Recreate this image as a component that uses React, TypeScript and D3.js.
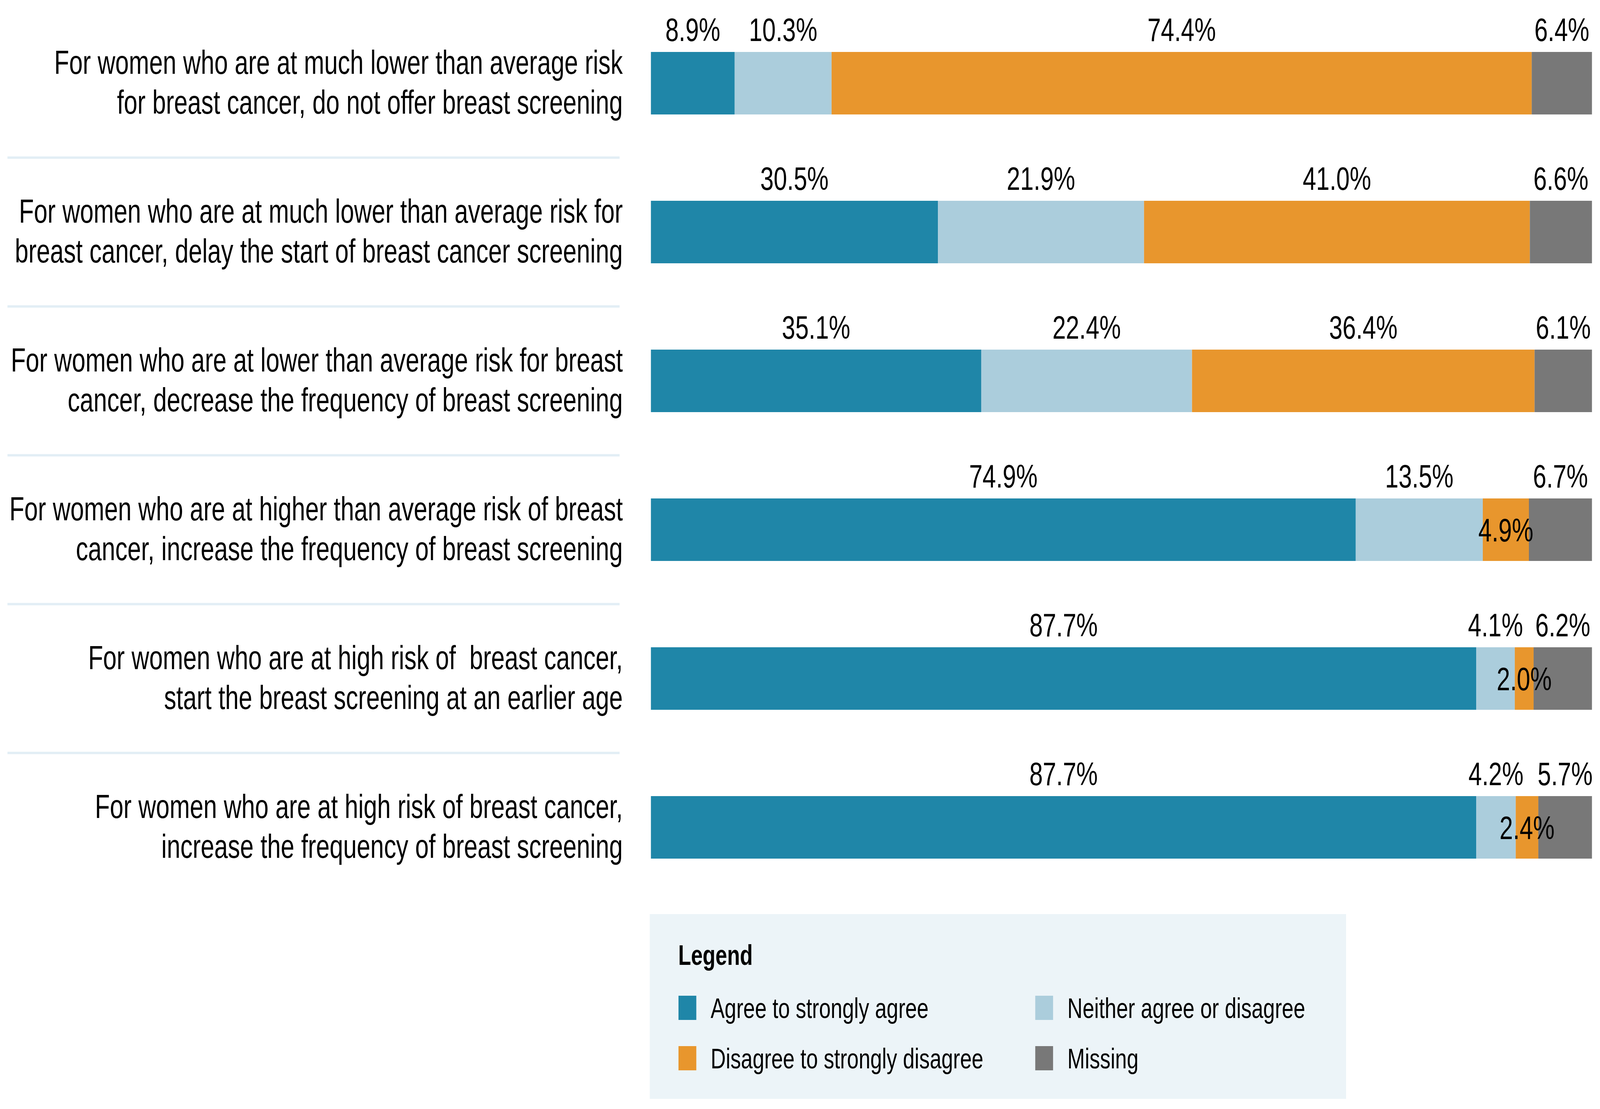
import React from "react";
import * as d3 from "d3";

// Survey statements (each split over two lines as in the source)
const categories = [
  ["For women who are at much lower than average risk", "for breast cancer, do not offer breast screening"],
  ["For women who are at much lower than average risk for", "breast cancer, delay the start of breast cancer screening"],
  ["For women who are at lower than average risk for breast", "cancer, decrease the frequency of breast screening"],
  ["For women who are at higher than average risk of breast", "cancer, increase the frequency of breast screening"],
  ["For women who are at high risk of  breast cancer,", "start the breast screening at an earlier age"],
  ["For women who are at high risk of breast cancer,", "increase the frequency of breast screening"],
];

const agree = [8.9, 30.5, 35.1, 74.9, 87.7, 87.7];
const neither = [10.3, 21.9, 22.4, 13.5, 4.1, 4.2];
const disagree = [74.4, 41.0, 36.4, 4.9, 2.0, 2.4];
const missing = [6.4, 6.6, 6.1, 6.7, 6.2, 5.7];

const seriesKeys = ["agree", "neither", "disagree", "missing"];
const seriesNames = [
  "Agree to strongly agree",
  "Neither agree or disagree",
  "Disagree to strongly disagree",
  "Missing",
];
const seriesColors = ["#1f86a8", "#abcddc", "#e8962d", "#787878"];

const W = 5570;
const H = 2839;
const FONT = "Arial, 'Liberation Sans', Helvetica, sans-serif";

const App = () => {
  const table = categories.map((c, i) => ({
    id: String(i),
    agree: agree[i],
    neither: neither[i],
    disagree: disagree[i],
    missing: missing[i],
  }));

  const stacked = d3.stack<any>().keys(seriesKeys)(table);

  const x = d3.scaleLinear().domain([0, 100]).range([2266, 5542]);
  const y = d3
    .scaleBand()
    .domain(table.map((d) => d.id))
    .range([22.5, 22.5 + 381 * 6])
    .paddingInner(0.58)
    .paddingOuter(0.29);

  const step = y.step();
  const bw = y.bandwidth();
  const fmt = (v: number) => d3.format(".1f")(v) + "%";
  const color = d3.scaleOrdinal<string, string>().domain(seriesKeys).range(seriesColors);

  const rowTop = (i: number) => (y(String(i)) as number) - y.paddingOuter() * step;

  // the svg stretches to the whole window so the layout keeps the reference proportions
  return (
    <div style={{ position: "fixed", left: 0, top: 0, width: "100vw", height: "100vh" }}>
      <svg
        viewBox={`0 0 ${W} ${H}`}
        preserveAspectRatio="none"
        width="100%"
        height="100%"
        style={{ display: "block", fontFamily: FONT }}
      >
        <rect width={W} height={H} fill="#ffffff" />

        {/* row separators */}
        {table.slice(1).map((d, i) => (
          <line
            key={"sep" + i}
            x1={26}
            x2={2157}
            y1={rowTop(i + 1)}
            y2={rowTop(i + 1)}
            stroke="#e2eef5"
            strokeWidth={6}
          />
        ))}

        {/* category labels */}
        {categories.map((lines, i) => {
          const cy = (y(String(i)) as number) + bw / 2;
          return (
            <text
              key={"cat" + i}
              x={2168}
              textAnchor="end"
              fontSize={85}
              fill="#000"
              style={{ whiteSpace: "pre" }}
            >
              <tspan x={2168} y={cy - 24}>{lines[0]}</tspan>
              <tspan x={2168} y={cy + 78}>{lines[1]}</tspan>
            </text>
          );
        })}

        {/* bars */}
        {stacked.map((s) => (
          <g key={s.key} fill={color(s.key)}>
            {s.map((seg, i) => (
              <rect
                key={i}
                x={x(seg[0])}
                width={x(seg[1]) - x(seg[0])}
                y={y(String(i))}
                height={bw}
              />
            ))}
          </g>
        ))}

        {/* value labels */}
        {stacked.map((s) =>
          s.map((seg, i) => {
            const v = seg[1] - seg[0];
            const cx = (x(seg[0]) + x(seg[1])) / 2;
            const top = y(String(i)) as number;
            const inside = s.key === "disagree" && v < 5;
            const ty = inside ? top + bw / 2 + 30 : top - 28;
            return (
              <text
                key={s.key + "l" + i}
                x={cx}
                y={ty}
                textAnchor="middle"
                fontSize={84}
                fill="#000"
              >
                {fmt(Math.round(v * 10) / 10)}
              </text>
            );
          })
        )}

        {/* legend */}
        <rect x={2262} y={2340} width={2424} height={473} fill="#ecf4f8" />
        <text x={2361} y={2470} fontSize={73} fontWeight="bold" fill="#000">
          Legend
        </text>
        {seriesNames.map((name, k) => {
          const col = k % 2;
          const row = Math.floor(k / 2);
          const sx = 2362 + col * 1242;
          const sy = 2549 + row * 129;
          return (
            <g key={"leg" + k}>
              <rect x={sx} y={sy} width={62} height={62} fill={seriesColors[k]} />
              <text x={sx + 112} y={sy + 57} fontSize={73} fill="#000">
                {name}
              </text>
            </g>
          );
        })}
      </svg>
    </div>
  );
};

export default App;
